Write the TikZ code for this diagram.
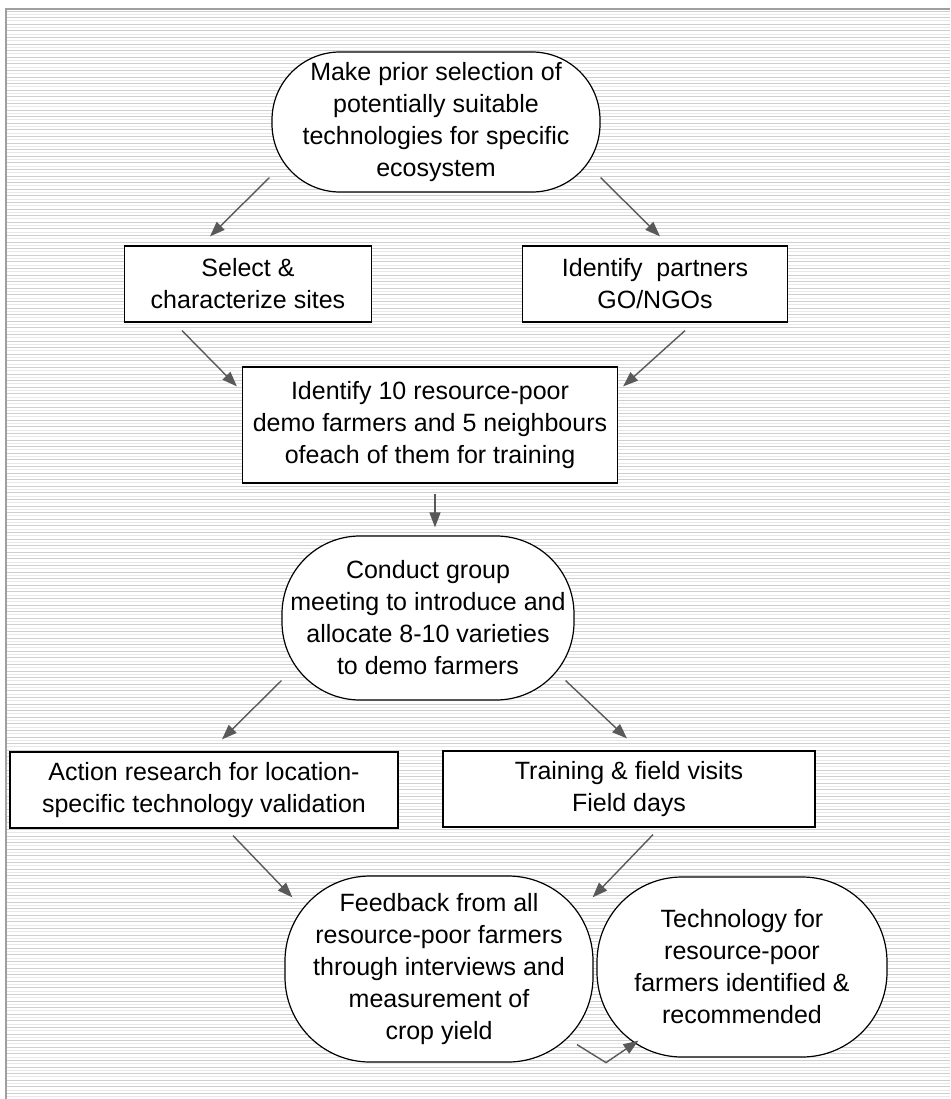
\documentclass[tikz,border=0pt]{standalone}
\usepackage{fontspec}
\setmainfont{Liberation Sans}
\usetikzlibrary{arrows.meta}

\tikzset{
	stepbox/.style={draw=black, line width=1.2pt, fill=white, align=center, inner sep=0pt},
	roundbox/.style={stepbox, rounded corners=#1},
	arr/.style={draw=black!65, line width=1.4pt, -{Triangle[length=15pt,width=11pt]}},
}

\begin{document}
\begin{tikzpicture}[x=1pt, y=-1pt, font=\fontsize{25}{32}\selectfont]
	\useasboundingbox (0,0) rectangle (950,1099);
	% ruled background and frame
	\foreach \y in {11,17.6,...,1099} \draw[gray!38, line width=0.9pt] (7,\y) -- (950,\y);
	\foreach \y in {14.3,20.9,...,1099} \draw[gray!18, line width=0.9pt] (7,\y) -- (950,\y);
	\draw[gray!75, line width=2pt] (6,1099) -- (6,9) -- (950,9);

	\node[roundbox=68pt, minimum width=328pt, minimum height=140pt] (prior) at (436,122) {Make prior selection of\\potentially suitable\\technologies for specific\\ecosystem};
	\node[stepbox, minimum width=247pt, minimum height=76pt] (sites) at (248,284) {Select \&\\characterize sites};
	\node[stepbox, minimum width=265pt, minimum height=76pt] (partner) at (655,284) {Identify\ \ partners\\GO/NGOs};
	\node[stepbox, minimum width=375pt, minimum height=116pt] (farmers) at (430,425) {Identify 10 resource-poor\\demo farmers and 5 neighbours\\ofeach of them for training};
	\node[roundbox=78pt, minimum width=292pt, minimum height=164pt] (meeting) at (428,618) {Conduct group\\meeting to introduce and\\allocate 8-10 varieties\\to demo farmers};
	\node[stepbox, minimum width=388pt, minimum height=76pt] (action) at (204,790) {Action research for location-\\specific technology validation};
	\node[stepbox, minimum width=372pt, minimum height=76pt] (training) at (629,789) {Training \& field visits\\Field days};
	\node[roundbox=85pt, minimum width=308pt, minimum height=186pt] (feedback) at (439,969) {Feedback from all\\resource-poor farmers\\through interviews and\\measurement of\\crop yield};
	\node[roundbox=85pt, minimum width=290pt, minimum height=180pt] (techno) at (742,967) {Technology for\\resource-poor\\farmers identified \&\\recommended};

	% arrows
	\draw[arr] ([shift={(-2,-15)}]prior.south west) -- ([shift={(-38,-9)}]sites.north);
	\draw[arr] ([shift={(0,-15)}]prior.south east) -- ([shift={(5,-9)}]partner.north);
	\draw[arr] ([shift={(-66,8)}]sites.south) -- ([shift={(-5,20)}]farmers.north west);
	\draw[arr] ([shift={(30,8)}]partner.south) -- ([shift={(5,20)}]farmers.north east);
	\draw[arr] ([shift={(5,10)}]farmers.south) -- ([shift={(7,-8)}]meeting.north);
	\draw[arr] ([shift={(0,-20)}]meeting.south west) -- ([shift={(18,-12)}]action.north);
	\draw[arr] ([shift={(-9,-20)}]meeting.south east) -- ([shift={(-2,-12)}]training.north);
	\draw[arr] ([shift={(29,7)}]action.south) -- ([shift={(8,22)}]feedback.north west);
	\draw[arr] ([shift={(24,7)}]training.south) -- ([shift={(-1,22)}]feedback.north east);
	\coordinate (bend) at ([shift={(167,0)}]feedback.south);
	\draw[arr] ([shift={(-29,-18)}]bend) -- (bend) -- ([shift={(42,-17)}]techno.south west);
\end{tikzpicture}
\end{document}
